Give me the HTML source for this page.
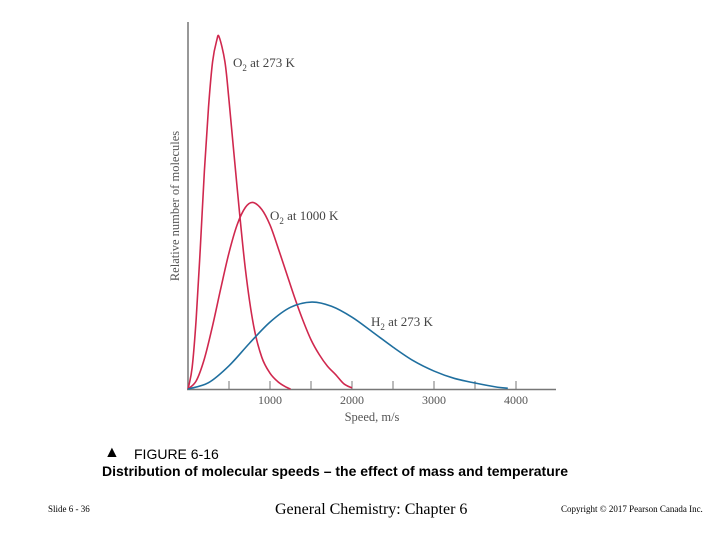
<!DOCTYPE html>
<html><head><meta charset="utf-8"><style>
body{margin:0;width:720px;height:540px;background:#fff;overflow:hidden;position:relative;font-family:"Liberation Sans",sans-serif}
.t{position:absolute;white-space:nowrap}
</style></head><body>
<svg id="chart" width="720" height="540" style="position:absolute;left:0;top:0" font-family="Liberation Serif, serif">
<line x1="188" y1="22" x2="188" y2="390" stroke="#777" stroke-width="1.5"/>
<line x1="187" y1="389.5" x2="556" y2="389.5" stroke="#777" stroke-width="1.5"/>
<g id="ticks"></g><g id="curves"></g>
<text transform="translate(179,206) rotate(-90)" text-anchor="middle" font-size="12.5" fill="#555">Relative number of molecules</text>
<text x="372" y="421" text-anchor="middle" font-size="12.5" fill="#555">Speed, m/s</text>
<text x="233" y="67" font-size="13" fill="#444">O<tspan font-size="9" dy="4">2</tspan><tspan dy="-4"> at 273 K</tspan></text>
<text x="270" y="220" font-size="13" fill="#444">O<tspan font-size="9" dy="4">2</tspan><tspan dy="-4"> at 1000 K</tspan></text>
<text x="371" y="326" font-size="13" fill="#444">H<tspan font-size="9" dy="4">2</tspan><tspan dy="-4"> at 273 K</tspan></text>
</svg>
<div class="t" style="left:104px;top:444px;font-size:16px">▲</div>
<div class="t" style="left:134px;top:446px;font-size:14px">FIGURE 6-16</div>
<div class="t" style="left:102px;top:463px;font-size:14px;font-weight:bold">Distribution of molecular speeds – the effect of mass and temperature</div>
<div class="t" style="left:48px;top:504px;font-size:9px;font-family:'Liberation Serif',serif">Slide 6 - 36</div>
<div class="t" style="left:275px;top:501px;font-size:16px;font-family:'Liberation Serif',serif">General Chemistry: Chapter 6</div>
<div class="t" style="left:561px;top:504px;font-size:9px;font-family:'Liberation Serif',serif">Copyright © 2017 Pearson Canada Inc.</div>
<script>
const tickValues=[500,1000,1500,2000,2500,3000,3500,4000];
const tickLabels=["1000","2000","3000","4000"];
const o2_273_speeds=[0,50,100,150,200,250,300,350,380,450,500,600,700,800,900,1000,1100,1200,1250];
const o2_273_values=[0,6,20,40,62,80,93,99,100,93,82,57,34,18,9,4.5,2,0.5,0];
const o2_1000_speeds=[0,100,200,300,400,500,600,700,790,900,1000,1100,1200,1300,1400,1500,1600,1700,1800,1900,2000];
const o2_1000_values=[0,2.3,8.6,18,28.6,38.7,46.7,51.6,53,51,46.6,40,33,26,19.6,14,9.8,6.5,4.1,1.5,0.3];
const h2_speeds=[0,250,500,750,1000,1250,1510,1750,2000,2250,2500,2750,3000,3250,3500,3750,3900];
const h2_values=[0,1.8,6.6,13,19,23.2,24.7,23.5,20.4,16.2,11.9,8,5.1,3,1.7,0.6,0.2];
const X=v=>188+v*0.082, Y=v=>389-v*3.52;
const ns="http://www.w3.org/2000/svg";
const tg=document.getElementById('ticks');
tickValues.forEach(v=>{const l=document.createElementNS(ns,'line');


l.setAttribute('x1',X(v));l.setAttribute('x2',X(v));l.setAttribute('y1',381);l.setAttribute('y2',389);l.setAttribute('stroke','#777');tg.appendChild(l);});
tickLabels.forEach(s=>{const t=document.createElementNS(ns,'text');


t.setAttribute('x',X(+s));t.setAttribute('y',404);t.setAttribute('text-anchor','middle');t.setAttribute('font-size','12');t.setAttribute('fill','#555');t.textContent=s;tg.appendChild(t);});
function path(xs,ys){const p=xs.map((x,i)=>[X(x),Y(ys[i])]);let d='M'+p[0].join(',');
for(let i=0;i<p.length-1;i++){const a=p[i-1]||p[i],b=p[i],c=p[i+1],e=p[i+2]||c;
d+=` C${b[0]+(c[0]-a[0])/6},${b[1]+(c[1]-a[1])/6} ${c[0]-(e[0]-b[0])/6},${c[1]-(e[1]-b[1])/6} ${c[0]},${c[1]}`;}return d;}
const cg=document.getElementById('curves');
[[o2_273_speeds,o2_273_values,'#d0284e','curve-o2-273k'],[o2_1000_speeds,o2_1000_values,'#d0284e','curve-o2-1000k'],[h2_speeds,h2_values,'#1f6f9f','curve-h2-273k']].forEach(s=>{
const p=document.createElementNS(ns,'path');


p.setAttribute('d',path(s[0],s[1]));p.setAttribute('fill','none');p.setAttribute('stroke',s[2]);p.setAttribute('stroke-width','1.6');cg.appendChild(p);});
</script>
</body></html>
